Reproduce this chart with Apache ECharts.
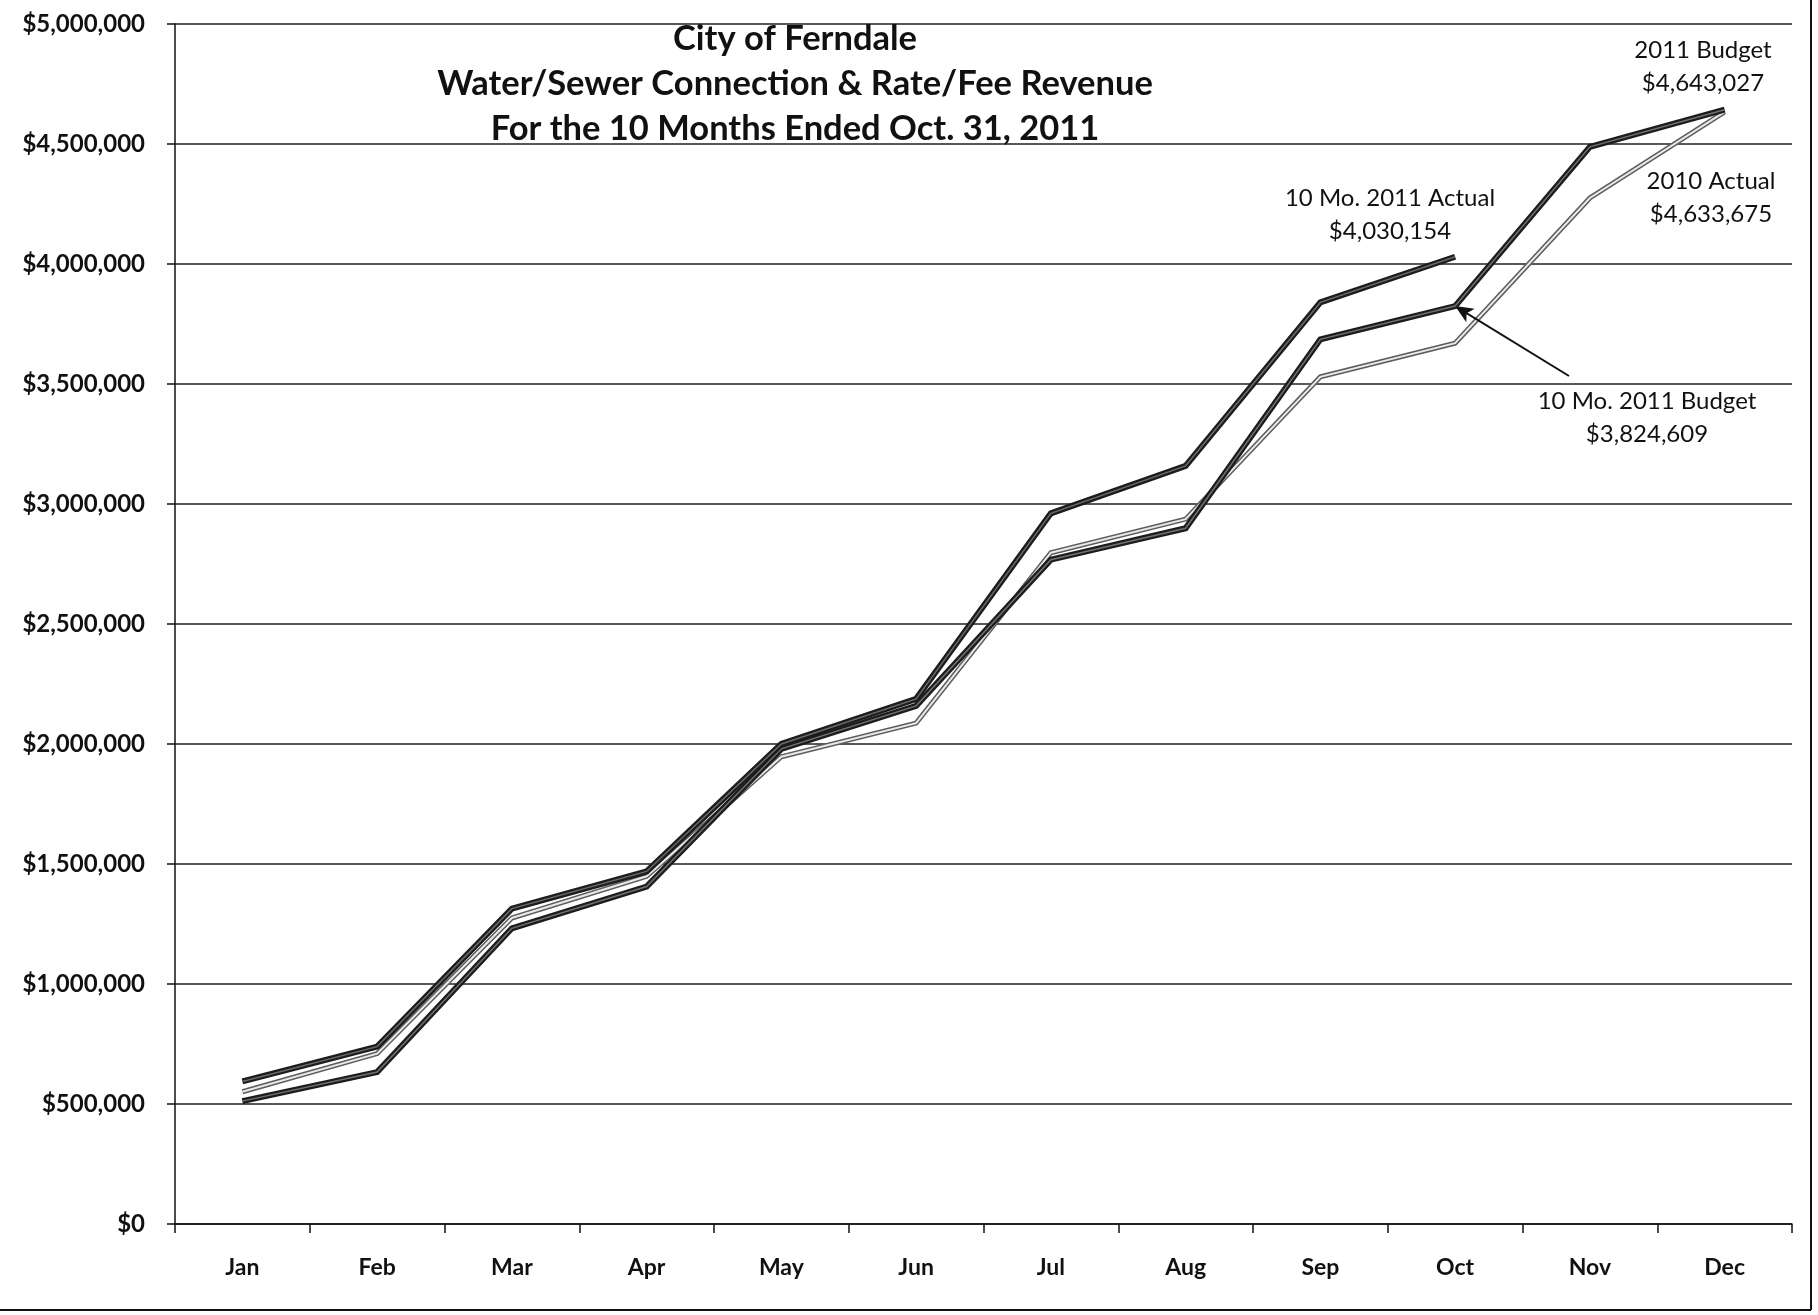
<!DOCTYPE html>
<html>
<head>
<meta charset="utf-8">
<script src="https://cdn.jsdelivr.net/npm/echarts@6/dist/echarts.min.js"></script>
<style>
  html, body { margin: 0; padding: 0; background: #fff; }
  #main { width: 1818px; height: 1315px; }
</style>
</head>
<body>
<div id="main"></div>
<script>
var months = ['Jan', 'Feb', 'Mar', 'Apr', 'May', 'Jun', 'Jul', 'Aug', 'Sep', 'Oct', 'Nov', 'Dec'];
// cumulative revenue
var actual2011 = [594000, 739000, 1314000, 1469000, 2000000, 2188000, 2961000, 3159000, 3840000, 4030154];
var budget2011 = [512000, 633000, 1232000, 1406000, 1980000, 2159000, 2768000, 2899000, 3686000, 3824609, 4488000, 4643027];
var actual2010 = [551000, 710000, 1275000, 1449000, 1947000, 2087000, 2797000, 2937000, 3530000, 3670000, 4275000, 4633675];
var yTicks = [0, 500000, 1000000, 1500000, 2000000, 2500000, 3000000, 3500000, 4000000, 4500000, 5000000];

var myChart = echarts.init(document.getElementById('main'));

var fmt = function (v) {
    return '$' + v.toString().replace(/\B(?=(\d{3})+(?!\d))/g, ',');
};

// each curve is drawn twice: a wide outline and a narrow core, like the printed lines
function twoTone(data, outer, inner, wOuter, wInner, z) {
    return [{
        type: 'line', data: data, symbol: 'none', silent: true, z: z,
        lineStyle: { color: outer, width: wOuter, join: 'miter' }
    }, {
        type: 'line', data: data, symbol: 'none', silent: true, z: z + 1,
        lineStyle: { color: inner, width: wInner, join: 'miter' }
    }];
}

var series = [];
series = series.concat(twoTone(actual2010, '#5c5c5c', '#e9e9e9', 5, 2, 3));
series = series.concat(twoTone(budget2011, '#1c1c1c', '#707070', 6, 1.5, 5));
series = series.concat(twoTone(actual2011, '#1c1c1c', '#6a6a6a', 6, 1.5, 7));

// arrow pointing at the Oct budget point
series[3].markLine = {
    silent: true,
    symbol: ['arrow', 'none'],
    symbolSize: [12, 18],
    label: { show: false },
    lineStyle: { color: '#111', width: 2, type: 'solid' },
    data: [[{ coord: ['Oct', budget2011[9]] }, { x: 1569, y: 376 }]]
};

var labelFont = { fontFamily: 'Lato', fontSize: 24, fill: '#111', textAlign: 'center', lineHeight: 33 };

var option = {
    backgroundColor: '#fff',
    animation: false,
    grid: { left: 175, right: 26, top: 24, height: 1200 },
    xAxis: {
        type: 'category',
        data: months,
        boundaryGap: true,
        axisLine: { lineStyle: { color: '#111', width: 1.5 } },
        axisTick: { show: true, length: 9, lineStyle: { color: '#111', width: 1.5 } },
        axisLabel: { margin: 32, color: '#111', fontFamily: 'Lato', fontWeight: 'bold', fontSize: 23 }
    },
    yAxis: {
        type: 'value',
        min: 0,
        max: 5000000,
        interval: 500000,
        axisLine: { show: true, lineStyle: { color: '#111', width: 1.5 } },
        axisTick: { show: true, length: 8, lineStyle: { color: '#111', width: 1.5 } },
        splitLine: { lineStyle: { color: '#222', width: 1.5 } },
        axisLabel: {
            margin: 30, color: '#111', fontFamily: 'Lato', fontWeight: 'bold', fontSize: 24,
            formatter: function (v) { return yTicks.indexOf(v) >= 0 ? fmt(v) : ''; }
        }
    },
    graphic: [
        {
            type: 'text', left: 795 - 450, top: 16, z: 20,
            style: {
                text: 'City of Ferndale\nWater/Sewer Connection & Rate/Fee Revenue\nFor the 10 Months Ended Oct. 31, 2011',
                width: 900, textAlign: 'center', x: 450,
                fontFamily: 'Lato', fontWeight: 'bold', fontSize: 34.5, lineHeight: 45, fill: '#111'
            }
        },
        { type: 'text', x: 1703, y: 34, z: 20, style: Object.assign({ text: '2011 Budget\n$4,643,027' }, labelFont) },
        { type: 'text', x: 1711, y: 165, z: 20, style: Object.assign({ text: '2010 Actual\n$4,633,675' }, labelFont) },
        { type: 'text', x: 1390, y: 182, z: 20, style: Object.assign({ text: '10 Mo. 2011 Actual\n$4,030,154' }, labelFont) },
        { type: 'text', x: 1647, y: 385, z: 20, style: Object.assign({ text: '10 Mo. 2011 Budget\n$3,824,609' }, labelFont) },
        { type: 'line', z: 20, shape: { x1: 1811, y1: 0, x2: 1811, y2: 1310 }, style: { stroke: '#111', lineWidth: 2 } },
        { type: 'line', z: 20, shape: { x1: 0, y1: 1310, x2: 1811, y2: 1310 }, style: { stroke: '#111', lineWidth: 2 } }
    ],
    series: series
};

myChart.setOption(option);
</script>
</body>
</html>
